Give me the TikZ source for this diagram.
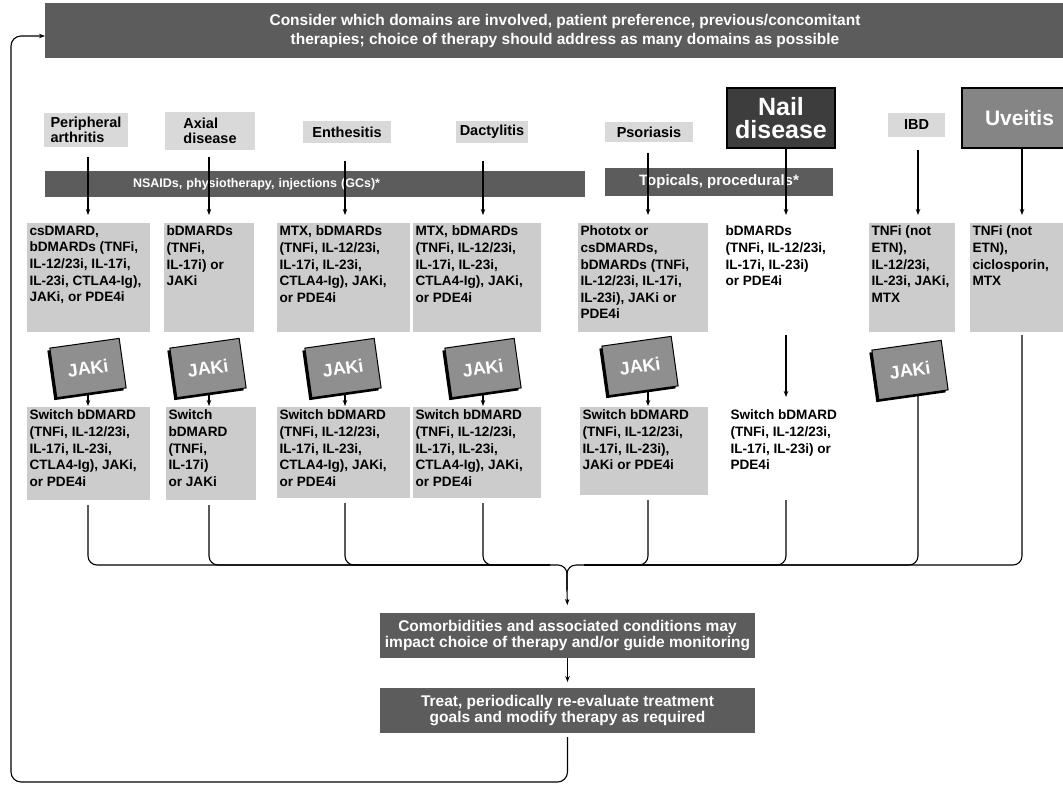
\documentclass[tikz,border=0pt]{standalone}
\usepackage{fontspec}
\setmainfont{Liberation Sans}
\usetikzlibrary{arrows.meta,shadows}
\definecolor{lightg}{gray}{0.80}
\definecolor{hdrg}{gray}{0.85}
\definecolor{darkg}{gray}{0.36}
\definecolor{nailg}{gray}{0.24}
\definecolor{uveg}{gray}{0.52}
\definecolor{jakig}{gray}{0.56}
\newcommand\fntbox{\fontsize{13.6}{16.6}\selectfont\bfseries}
\newcommand\fnthdr{\fontsize{14.5}{14.5}\selectfont\bfseries}
\newcommand\fntbar{\fontsize{12.5}{14}\selectfont\bfseries}
\newcommand\fntban{\fontsize{15.5}{19}\selectfont\bfseries}
\newcommand\fntcom{\fontsize{15.5}{16.5}\selectfont\bfseries}
\newcommand\fntjak{\fontsize{18}{18}\selectfont\bfseries}
\newcommand\fntbig{\fontsize{25}{23}\selectfont\bfseries}
\newcommand\cellbox[3]{\parbox[t][#2][t]{#1}{\raggedright #3}}
\begin{document}
\begin{tikzpicture}[x=1pt,y=-1pt,
  every node/.style={inner sep=0pt,outer sep=0pt},
  lbox/.style={anchor=north west,fill=lightg,inner xsep=2.5pt,inner ysep=3pt,font=\fntbox},
  pbox/.style={anchor=north west,inner xsep=2.5pt,inner ysep=3pt,font=\fntbox},
  hdr/.style={anchor=north west,fill=hdrg,align=left,inner sep=3pt,font=\fnthdr},
  dbar/.style={anchor=north west,fill=darkg,text=white,font=\fntbar,inner sep=2pt},
  bigbox/.style={anchor=north west,text=white,align=center,font=\fntbig,draw=black},
  jaki/.style={fill=jakig,draw=black,line width=1pt,minimum width=70pt,minimum height=50pt,
    rotate=8,text=white,font=\fntjak,
    drop shadow={shadow xshift=-2.5pt,shadow yshift=-2.5pt,fill=black,opacity=1}},
  wire/.style={line width=1.1pt,draw=black},
  arr/.style={wire,-{Stealth[length=6pt,width=4.5pt]}},
  conn/.style={wire,rounded corners=9pt},
]
\useasboundingbox (0,0) rectangle (1063,785);
\clip (0,0) rectangle (1063,785);

% column x positions
\coordinate (x1) at (88,0);
\coordinate (x2) at (209,0);
\coordinate (x3) at (345,0);
\coordinate (x4) at (483,0);
\coordinate (x5) at (648,0);
\coordinate (x6) at (786,0);
\coordinate (x7) at (918,0);
\coordinate (x8) at (1022,0);

% top banner
\node[dbar,minimum width=1040pt,minimum height=55pt,align=center,font=\fntban] (banner) at (45,3)
  {Consider which domains are involved, patient preference, previous/concomitant\\
   therapies; choice of therapy should address as many domains as possible};

% domain headers
\node[hdr,minimum width=84pt,minimum height=34pt] (h1) at (44,113) {Peripheral\\arthritis};
\node[hdr,minimum width=90pt,minimum height=38pt] (h2) at (165,112) {Axial\\disease};
\node[hdr,minimum width=88pt,minimum height=22pt] (h3) at (303,121) {Enthesitis};
\node[hdr,minimum width=72pt,minimum height=22pt] (h4) at (456,121) {Dactylitis};
\node[hdr,minimum width=88pt,minimum height=20pt] (h5) at (605,122) {Psoriasis};
\node[bigbox,fill=nailg,line width=1.2pt,minimum width=108pt,minimum height=60pt] (h6) at (727,88) {Nail\\disease};
\node[hdr,minimum width=57pt,minimum height=24pt,align=center] (h7) at (888,113) {IBD};
\node[bigbox,fill=uveg,line width=2.5pt,minimum width=115pt,minimum height=60pt,font=\fontsize{21}{21}\selectfont\bfseries] (h8) at (962,88) {Uveitis};

% bars
\node[dbar,minimum height=26pt,text width=536pt,align=left] (nsaid) at (45,171)
  {\hspace*{86pt}NSAIDs, physiotherapy, injections (GCs)*};
\node[dbar,minimum width=228pt,minimum height=28pt,font=\fontsize{15}{16}\selectfont\bfseries] (topi) at (605,168) {Topicals, procedurals*};

% first-line therapy
\node[lbox] (fl1) at (27,223) {\cellbox{118pt}{103pt}{csDMARD,\\bDMARDs (TNFi,\\IL-12/23i, IL-17i,\\IL-23i, CTLA4-Ig),\\JAKi, or PDE4i}};
\node[lbox] (fl2) at (164,223) {\cellbox{85pt}{103pt}{bDMARDs\\(TNFi,\\IL-17i) or\\JAKi}};
\node[lbox] (fl3) at (277,223) {\cellbox{128pt}{103pt}{MTX, bDMARDs\\(TNFi, IL-12/23i,\\IL-17i, IL-23i,\\CTLA4-Ig), JAKi,\\or PDE4i}};
\node[lbox] (fl4) at (413,223) {\cellbox{123pt}{103pt}{MTX, bDMARDs\\(TNFi, IL-12/23i,\\IL-17i, IL-23i,\\CTLA4-Ig), JAKi,\\or PDE4i}};
\node[lbox] (fl5) at (578,223) {\cellbox{125pt}{103pt}{Phototx or\\csDMARDs,\\bDMARDs (TNFi,\\IL-12/23i, IL-17i,\\IL-23i), JAKi or\\PDE4i}};
\node[pbox] (fl6) at (723,223) {\cellbox{125pt}{103pt}{bDMARDs\\(TNFi, IL-12/23i,\\IL-17i, IL-23i)\\or PDE4i}};
\node[lbox] (fl7) at (869,223) {\cellbox{81pt}{103pt}{TNFi (not\\ETN),\\IL-12/23i,\\IL-23i, JAKi,\\MTX}};
\node[lbox] (fl8) at (970,223) {\cellbox{100pt}{103pt}{TNFi (not\\ETN),\\ciclosporin,\\MTX}};

% JAKi boxes
\node[jaki] (j1) at (88,368) {JAKi};
\node[jaki] (j2) at (208,368) {JAKi};
\node[jaki] (j3) at (343,368) {JAKi};
\node[jaki] (j4) at (483,368) {JAKi};
\node[jaki] (j5) at (640,366) {JAKi};
\node[jaki] (j7) at (910,370) {JAKi};

% switch boxes
\node[lbox] (sw1) at (27,407) {\cellbox{118pt}{87pt}{Switch bDMARD\\(TNFi, IL-12/23i,\\IL-17i, IL-23i,\\CTLA4-Ig), JAKi,\\or PDE4i}};
\node[lbox] (sw2) at (166,407) {\cellbox{85pt}{87pt}{Switch\\bDMARD\\(TNFi,\\IL-17i)\\or JAKi}};
\node[lbox] (sw3) at (277,407) {\cellbox{128pt}{85pt}{Switch bDMARD\\(TNFi, IL-12/23i,\\IL-17i, IL-23i,\\CTLA4-Ig), JAKi,\\or PDE4i}};
\node[lbox] (sw4) at (413,407) {\cellbox{123pt}{85pt}{Switch bDMARD\\(TNFi, IL-12/23i,\\IL-17i, IL-23i,\\CTLA4-Ig), JAKi,\\or PDE4i}};
\node[lbox] (sw5) at (580,407) {\cellbox{123pt}{82pt}{Switch bDMARD\\(TNFi, IL-12/23i,\\IL-17i, IL-23i),\\JAKi or PDE4i}};
\node[pbox] (sw6) at (728,407) {\cellbox{125pt}{82pt}{Switch bDMARD\\(TNFi, IL-12/23i,\\IL-17i, IL-23i) or\\PDE4i}};

% bottom boxes
\node[dbar,minimum width=375pt,minimum height=45pt,align=center,font=\fntcom] (como) at (380,613)
  {Comorbidities and associated conditions may\\impact choice of therapy and/or guide monitoring};
\node[dbar,minimum width=375pt,minimum height=45pt,align=center,font=\fntcom] (treat) at (380,688)
  {Treat, periodically re-evaluate treatment\\goals and modify therapy as required};

% header -> first line
\draw[arr,shorten <=10pt,shorten >=8pt] (h1.south -| x1) -- (fl1.north -| x1);
\draw[arr,shorten <=7pt,shorten >=8pt] (h2.south -| x2) -- (fl2.north -| x2);
\draw[arr,shorten <=18pt,shorten >=8pt] (h3.south -| x3) -- (fl3.north -| x3);
\draw[arr,shorten <=18pt,shorten >=8pt] (h4.south -| x4) -- (fl4.north -| x4);
\draw[arr,shorten <=11pt,shorten >=8pt] (h5.south -| x5) -- (fl5.north -| x5);
\draw[arr,shorten >=8pt] (h6.south -| x6) -- (fl6.north -| x6);
\draw[arr,shorten <=13pt,shorten >=8pt] (h7.south -| x7) -- (fl7.north -| x7);
\draw[arr,shorten >=8pt] (h8.south -| x8) -- (fl8.north -| x8);

% JAKi -> switch
\draw[arr,shorten >=1pt] (j1.south -| x1) -- (sw1.north -| x1);
\draw[arr,shorten >=1pt] (j2.south -| x2) -- (sw2.north -| x2);
\draw[arr,shorten >=1pt] (j3.south -| x3) -- (sw3.north -| x3);
\draw[arr,shorten >=1pt] (j4.south -| x4) -- (sw4.north -| x4);
\draw[arr,shorten >=1pt] (j5.south -| x5) -- (sw5.north -| x5);
\draw[arr,shorten <=3pt,shorten >=10pt] (fl6.south -| x6) -- (sw6.north -| x6);

% bracket to comorbidities
\coordinate (jn) at (567,565);
\coordinate (jl) at (550,565);
\coordinate (jr) at (584,565);
\coordinate (jd) at (567,590);
\draw[conn,shorten <=5pt] (sw1.south -| x1) |- (jn) -- (jd);
\draw[conn,shorten <=5pt] (sw2.south -| x2) |- (jl);
\draw[conn,shorten <=5pt] (sw3.south -| x3) |- (jl);
\draw[conn,shorten <=5pt] (sw4.south -| x4) |- (jl);
\draw[conn,shorten <=5pt] (sw5.south -| x5) |- (jr);
\draw[conn,shorten <=5pt] (sw6.south -| x6) |- (jr);
\draw[conn] (j7.south -| x7) |- (jr);
\draw[conn,shorten <=3pt] (fl8.south -| x8) |- (jn) -- (jd);
\draw[arr,shorten >=8pt] (jd) -- (como.north);
\draw[arr,shorten >=6pt] (como.south) -- (treat.north);

% feedback loop
\coordinate (lc) at (11,782);
\coordinate (lt) at (11,36);
\draw[arr,rounded corners=10pt,shorten <=4pt] (treat.south) |- (lc) |- (banner.west |- lt);
\end{tikzpicture}
\end{document}
